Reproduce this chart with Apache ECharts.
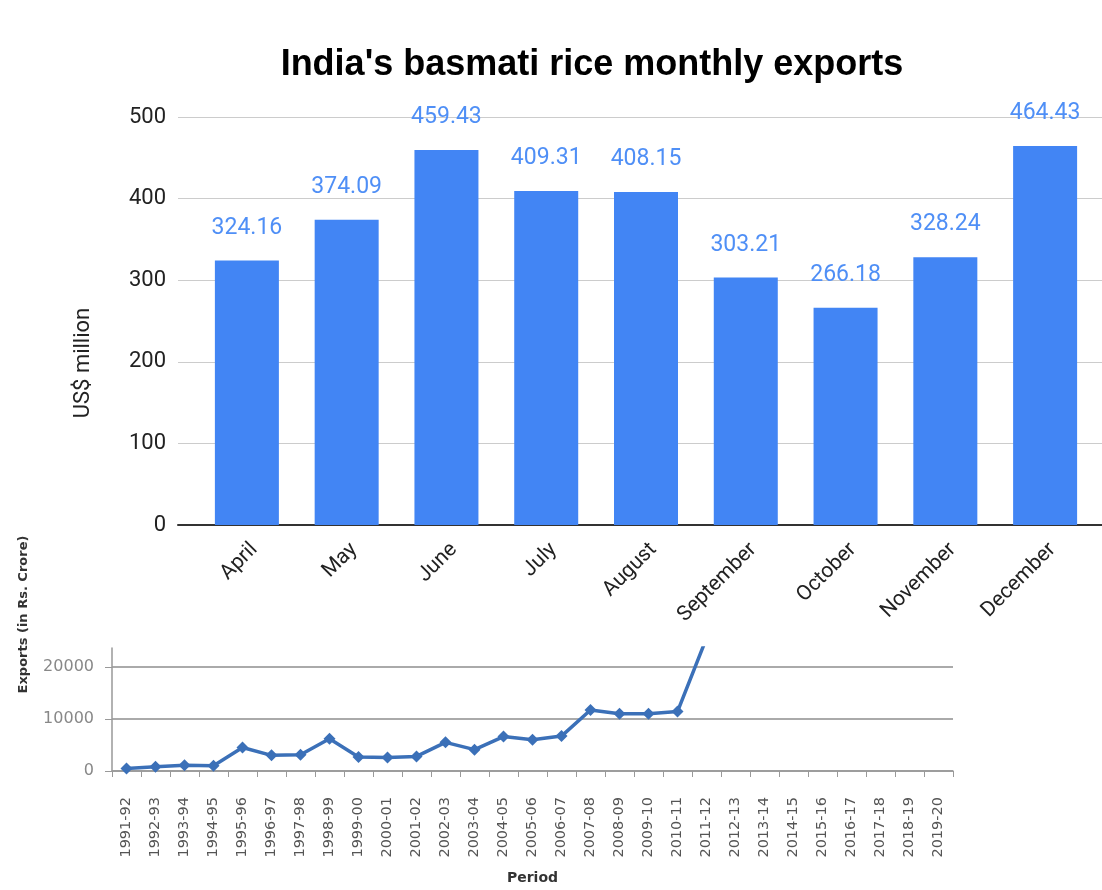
<!DOCTYPE html>
<html>
<head>
<meta charset="utf-8">
<script src="https://cdn.jsdelivr.net/npm/echarts@6/dist/echarts.min.js"></script>
<style>
html, body { margin: 0; padding: 0; background: #fff; }
#main { width: 1102px; height: 890px; }
</style>
</head>
<body>
<div id="main"></div>
<script>
// monthly basmati exports (US$ million)
var months = ['April', 'May', 'June', 'July', 'August', 'September', 'October', 'November', 'December']
var monthlyExports = [324.16, 374.09, 459.43, 409.31, 408.15, 303.21, 266.18, 328.24, 464.43]
var monthTicks = [0, 100, 200, 300, 400, 500]

// yearly exports (Rs. crore), the line runs off the top after 2010-11
var periods = ['1991-92', '1992-93', '1993-94', '1994-95', '1995-96', '1996-97', '1997-98', '1998-99',
    '1999-00', '2000-01', '2001-02', '2002-03', '2003-04', '2004-05', '2005-06', '2006-07', '2007-08',
    '2008-09', '2009-10', '2010-11', '2011-12', '2012-13', '2013-14', '2014-15', '2015-16', '2016-17',
    '2017-18', '2018-19', '2019-20']
var yearlyExports = [480, 800, 1100, 1000, 4500, 3000, 3100, 6200, 2700, 2600, 2800, 5500, 4100, 6600,
    6000, 6700, 11700, 11000, 11000, 11400, 25500, null, null, null, null, null, null, null, null]
var yearTicks = [0, 10000, 20000]

var myChart = echarts.init(document.getElementById('main'))

var option = {
    backgroundColor: '#fff',
    animation: false,
    title: {
        text: "India's basmati rice monthly exports",
        left: 587,
        top: 42,
        textAlign: 'center',
        textStyle: {
            fontFamily: 'Liberation Sans',
            fontWeight: 'bold',
            fontSize: 36,
            color: '#000'
        }
    },
    grid: [
        // wide grid: gridlines + baseline + y labels
        { left: 178, right: 0, top: 117, bottom: 365 },
        // bars
        { left: 197, right: 7, top: 117, bottom: 365 },
        // lower line chart
        { left: 112, right: 149, top: 648, bottom: 119 }
    ],
    xAxis: [
        {
            gridIndex: 0,
            type: 'category',
            data: months,
            axisLine: { show: true, lineStyle: { color: '#333', width: 2 } },
            axisTick: { show: false },
            axisLabel: { show: false }
        },
        {
            gridIndex: 1,
            type: 'category',
            data: months,
            axisLine: { show: false },
            axisTick: { show: false },
            axisLabel: {
                rotate: 45,
                margin: 14,
                verticalAlign: 'top',
                fontFamily: 'Roboto',
                fontSize: 21,
                color: '#222'
            }
        },
        {
            gridIndex: 2,
            type: 'category',
            data: periods,
            name: 'Period',
            nameLocation: 'middle',
            nameGap: 100,
            nameTextStyle: { fontFamily: 'DejaVu Sans', fontWeight: 'bold', fontSize: 14, color: '#333' },
            axisLine: { show: true, lineStyle: { color: '#999', width: 1.5 } },
            axisTick: { show: true, length: 6, lineStyle: { color: '#999' } },
            axisLabel: {
                rotate: 90,
                margin: 26,
                interval: 0,
                fontFamily: 'DejaVu Sans',
                fontSize: 14.5,
                color: '#555'
            }
        }
    ],
    yAxis: [
        {
            gridIndex: 0,
            type: 'value',
            min: monthTicks[0],
            max: monthTicks[monthTicks.length - 1],
            interval: 100,
            name: 'US$ million',
            nameLocation: 'middle',
            nameGap: 84,
            nameTextStyle: { fontFamily: 'Roboto', fontSize: 22, color: '#222', padding: [0, 84, 0, 0] },
            axisLine: { show: false },
            axisTick: { show: false },
            splitLine: { lineStyle: { color: '#ccc', width: 1 } },
            axisLabel: { margin: 12, fontFamily: 'Roboto', fontSize: 22, color: '#222' }
        },
        {
            gridIndex: 1,
            type: 'value',
            min: monthTicks[0],
            max: monthTicks[monthTicks.length - 1],
            interval: 100,
            show: false
        },
        {
            gridIndex: 2,
            type: 'value',
            min: 0,
            max: 23600,
            interval: 10000,
            name: 'Exports (in Rs. Crore)',
            nameLocation: 'middle',
            nameGap: 82,
            nameTextStyle: { fontFamily: 'DejaVu Sans', fontWeight: 'bold', fontSize: 13, color: '#333', padding: [0, 0, 0, 190] },
            axisLine: { show: true, lineStyle: { color: '#999', width: 1.5 } },
            axisTick: { show: true, length: 7, lineStyle: { color: '#999' } },
            splitLine: { show: true, showMaxLine: false, lineStyle: { color: '#aaa', width: 2 } },
            axisLabel: {
                showMaxLabel: false,
                margin: 18,
                fontFamily: 'DejaVu Sans',
                fontSize: 16,
                color: '#888',
                formatter: function (v) {
                    return yearTicks.indexOf(v) > -1 ? String(v) : ''
                }
            }
        }
    ],
    series: [
        {
            name: 'US$ million',
            type: 'bar',
            xAxisIndex: 1,
            yAxisIndex: 1,
            barWidth: 64,
            data: monthlyExports,
            itemStyle: { color: '#4285F4' },
            label: {
                show: true,
                position: 'top',
                distance: 21,
                fontFamily: 'Roboto',
                fontSize: 23,
                color: '#4f8ff6'
            }
        },
        {
            name: 'Exports',
            type: 'line',
            xAxisIndex: 2,
            yAxisIndex: 2,
            data: yearlyExports,
            clip: true,
            symbol: 'diamond',
            symbolSize: 12,
            lineStyle: { color: '#3b70b8', width: 3.5 },
            itemStyle: { color: '#3b70b8' }
        }
    ]
}

myChart.setOption(option)
</script>
</body>
</html>
